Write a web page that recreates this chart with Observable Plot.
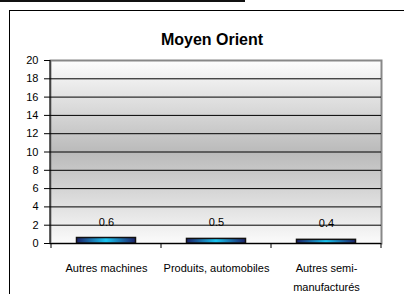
<!DOCTYPE html>
<html><head><meta charset="utf-8">
<script src="https://cdn.jsdelivr.net/npm/d3@7"></script>
<script src="https://cdn.jsdelivr.net/npm/@observablehq/plot@0.6"></script>
<style>
body{margin:0;background:#fff;font-family:"Liberation Sans",Arial,sans-serif;}
#wrap{position:relative;width:404px;height:294px;overflow:hidden;background:#fff;}
#topline{position:absolute;left:0;top:0;width:245px;height:2px;background:#111;}
#box{position:absolute;left:9px;top:10px;width:420px;height:320px;border-left:1.5px solid #000;border-top:1.5px solid #000;}
#title{position:absolute;left:112px;width:200px;top:32px;line-height:16px;text-align:center;font-weight:bold;font-size:16px;color:#000;}
#chart{position:absolute;left:0;top:0;}
</style></head>
<body><div id="wrap"><div id="topline"></div><div id="box"></div><div id="title"></div><div id="chart"></div></div>
<script>
const title = "Moyen Orient";
const categories = ["Autres machines", "Produits, automobiles", "Autres semi-manufacturés"];
const tickLabels = ["Autres machines", "Produits, automobiles", "Autres semi-\nmanufacturés"];
const values = [0.6, 0.5, 0.4];
const yTicks = [0, 2, 4, 6, 8, 10, 12, 14, 16, 18, 20];

document.getElementById("title").textContent = title;

const data = categories.map((c, i) => ({cat: c, value: values[i]}));
const gridValues = yTicks.filter(v => v > 0 && v < d3.max(yTicks));

const plot = Plot.plot({
  width: 404,
  height: 294,
  marginLeft: 50,
  marginRight: 23,
  marginTop: 60,
  marginBottom: 51,
  style: {background: "transparent", fontFamily: "'Liberation Sans', Arial, sans-serif", fontSize: "11px", color: "#000"},
  x: {domain: categories, padding: 0, label: null},
  y: {domain: [0, d3.max(yTicks)], label: null},
  marks: [
    Plot.frame({fill: "url(#bgGrad)", stroke: "#888", strokeWidth: 2}),
    Plot.ruleY(gridValues, {stroke: "#000", strokeWidth: 1}),
    Plot.barY(data, {x: "cat", y: "value", fill: "url(#barGrad)", stroke: "#111", strokeWidth: 1.5, insetLeft: 25.5, insetRight: 25.5}),
    Plot.text(data, {x: "cat", y: "value", text: d => d.value.toFixed(1), dy: -16, fontSize: 11, fill: "#000"}),
    Plot.ruleY([0], {stroke: "#000", strokeWidth: 1}),
    Plot.axisY({ticks: yTicks, tickSize: 6, tickPadding: 6, fontSize: 11, label: null, tickFormat: d => String(d)}),
    Plot.axisX({tickSize: 0, tickPadding: 14, fontSize: 11, lineHeight: 1.8, label: null, tickFormat: d => tickLabels[categories.indexOf(d)]})
  ]
});

const svg = d3.select(plot);
const defs = svg.insert("defs", ":first-child");
const bg = defs.append("linearGradient").attr("id", "bgGrad").attr("x1", 0).attr("y1", 0).attr("x2", 0).attr("y2", 1);
bg.append("stop").attr("offset", 0).attr("stop-color", "#fdfdfd");
bg.append("stop").attr("offset", 0.5).attr("stop-color", "#bababa");
bg.append("stop").attr("offset", 1).attr("stop-color", "#fbfbfb");
const bar = defs.append("linearGradient").attr("id", "barGrad").attr("x1", 0).attr("y1", 0).attr("x2", 1).attr("y2", 0);
bar.append("stop").attr("offset", 0).attr("stop-color", "#1c2068");
bar.append("stop").attr("offset", 0.5).attr("stop-color", "#1ac6f2");
bar.append("stop").attr("offset", 1).attr("stop-color", "#1c2068");

const xs = plot.scale("x"), ys = plot.scale("y");
const y0 = ys.apply(0), yTop = ys.apply(d3.max(yTicks));
const xr = xs.range;
const g = svg.append("g").attr("stroke", "#000").attr("stroke-width", 1);
g.append("line").attr("x1", xr[0]).attr("x2", xr[0]).attr("y1", yTop).attr("y2", y0);
const bounds = categories.map(c => xs.apply(c)).concat([xr[1]]);
bounds.forEach(b => g.append("line").attr("x1", b).attr("x2", b).attr("y1", y0).attr("y2", y0 + 5));

document.getElementById("chart").appendChild(plot);
</script>
</body></html>
